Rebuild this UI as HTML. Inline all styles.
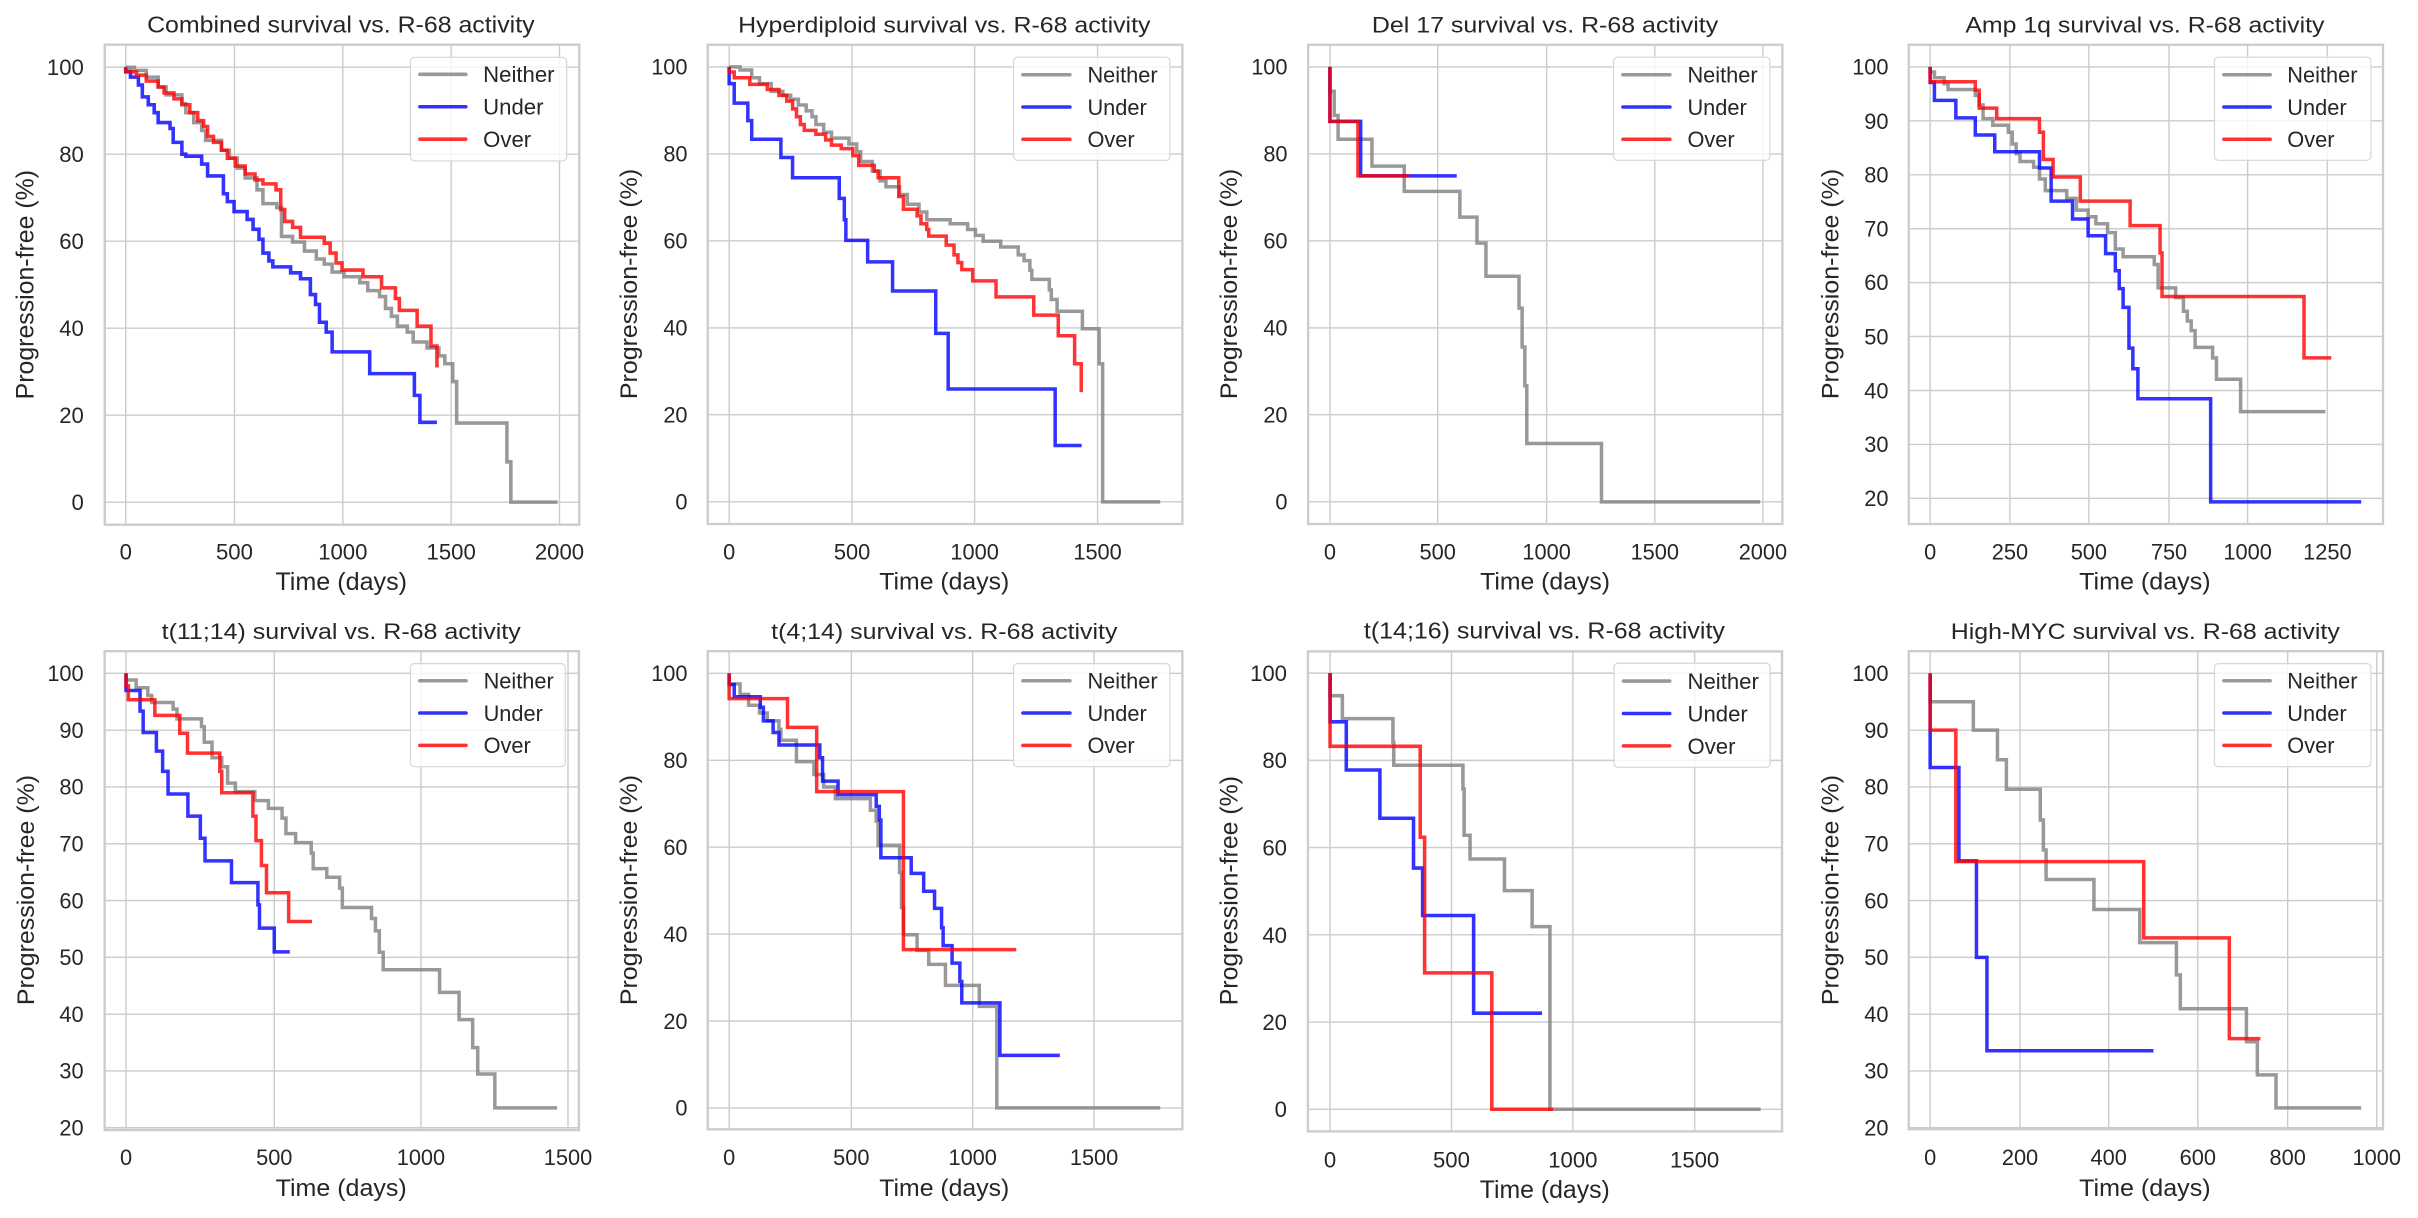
<!DOCTYPE html>
<html><head><meta charset="utf-8"><style>
html,body{margin:0;padding:0;background:#fff;}
svg{display:block;}
text{font-family:"Liberation Sans",Arial,sans-serif;fill:#262626;}
.fr{fill:none;stroke:#cccccc;stroke-width:6;}
.gr{stroke:#cccccc;stroke-width:3.6;fill:none;}
.s{fill:none;stroke-width:9;stroke-linejoin:miter;stroke-linecap:butt;opacity:0.8;}
.g{stroke:#808080;}.b{stroke:#0000ff;}.r{stroke:#ff0000;}
.lg{fill:#fff;fill-opacity:0.8;stroke:#d6d6d6;stroke-width:3;}
.ll{stroke-width:9;stroke-linecap:round;opacity:0.8;}
.t{font-size:56px;}
.yt{text-anchor:end;}
.xt{text-anchor:middle;}
.ti{font-size:58px;text-anchor:middle;}
.al{font-size:62px;text-anchor:middle;}
</style></head><body>
<svg width="2418" height="1218" viewBox="0 0 2418 1218" xmlns="http://www.w3.org/2000/svg">
<rect width="2418" height="1218" fill="#fff"/>

<!-- Panel 1 -->
<g transform="translate(0,0) scale(0.3954)">
<path class="gr" d="M318 113V1327M593 113V1327M867 113V1327M1141 113V1327M1415 113V1327M265 170H1465M265 390H1465M265 610H1465M265 830H1465M265 1050H1465M265 1270H1465"/>
<rect class="fr" x="265" y="113" width="1200" height="1214"/>
<path class="s g" d="M318 170 H340 V178 H370 V195 H400 V220 H420 V240 H460 V262 H470 V285 H490 V310 H510 V330 H520 V355 H560 V380 H580 V400 H600 V425 H620 V450 H650 V480 H665 V515 H700 V525 H712 V598 H740 V612 H770 V635 H800 V655 H820 V668 H840 V688 H870 V700 H910 V715 H930 V735 H960 V750 H975 V780 H990 V800 H1005 V825 H1030 V840 H1045 V865 H1080 V880 H1110 V900 H1125 V920 H1145 V965 H1155 V1070 H1282 V1168 H1292 V1270 H1410"/>
<path class="s b" d="M318 170 V180 H330 V195 H350 V215 H360 V245 H375 V265 H390 V285 H400 V310 H430 V325 H438 V360 H460 V390 H470 V395 H510 V415 H525 V445 H565 V490 H575 V510 H592 V535 H625 V555 H640 V580 H655 V605 H665 V640 H680 V660 H690 V675 H735 V690 H760 V705 H785 V745 H798 V770 H808 V815 H825 V840 H840 V890 H935 V945 H1048 V1000 H1062 V1068 H1105"/>
<path class="s r" d="M318 170 V182 H345 V190 H370 V205 H400 V220 H415 V235 H440 V250 H460 V265 H480 V285 H500 V305 H515 V320 H525 V345 H540 V360 H560 V380 H575 V400 H595 V420 H620 V440 H645 V455 H665 V465 H698 V480 H710 V530 H720 V560 H740 V575 H760 V600 H820 V615 H835 V640 H850 V665 H865 V683 H918 V700 H965 V728 H1000 V755 H1010 V785 H1055 V825 H1090 V875 H1105 V925 H1110"/>
<rect class="lg" x="1038" y="145" width="395" height="262" rx="10"/>
<line class="ll g" x1="1062" y1="188" x2="1178" y2="188"/><line class="ll b" x1="1062" y1="270" x2="1178" y2="270"/><line class="ll r" x1="1062" y1="352" x2="1178" y2="352"/>
<text class="t" x="1222" y="208">Neither</text><text class="t" x="1222" y="290">Under</text><text class="t" x="1222" y="372">Over</text>
<text class="t yt" x="212" y="190">100</text><text class="t yt" x="212" y="410">80</text><text class="t yt" x="212" y="630">60</text><text class="t yt" x="212" y="850">40</text><text class="t yt" x="212" y="1070">20</text><text class="t yt" x="212" y="1290">0</text>
<text class="t xt" x="318" y="1415">0</text><text class="t xt" x="593" y="1415">500</text><text class="t xt" x="867" y="1415">1000</text><text class="t xt" x="1141" y="1415">1500</text><text class="t xt" x="1415" y="1415">2000</text>
<text class="ti" x="862" y="82" textLength="980" lengthAdjust="spacingAndGlyphs">Combined survival vs. R-68 activity</text>
<text class="al" x="863" y="1492" textLength="333" lengthAdjust="spacingAndGlyphs">Time (days)</text>
<text class="al" transform="translate(85,720) rotate(-90)" x="0" y="0" textLength="580" lengthAdjust="spacingAndGlyphs">Progression-free (%)</text>
</g>

<!-- Panel 2 -->
<g transform="translate(600,0) scale(0.38903)">
<path class="gr" d="M332 115V1347M648 115V1347M963 115V1347M1279 115V1347M277 172H1497M277 395.6H1497M277 619H1497M277 843H1497M277 1066H1497M277 1290H1497"/>
<rect class="fr" x="277" y="115" width="1220" height="1232"/>
<path class="s g" d="M332 172 H360 V180 H390 V200 H410 V215 H440 V235 H470 V245 H490 V255 H510 V270 H530 V285 H545 V300 H555 V320 H575 V340 H595 V355 H640 V370 H660 V390 H670 V415 H700 V440 H720 V465 H735 V480 H770 V500 H790 V525 H820 V545 H840 V565 H900 V575 H945 V590 H965 V605 H985 V620 H1030 V635 H1075 V655 H1090 V670 H1105 V695 H1110 V718 H1155 V745 H1160 V770 H1175 V800 H1240 V845 H1283 V935 H1292 V1290 H1440"/>
<path class="s b" d="M332 172 V215 H345 V265 H380 V310 H390 V358 H465 V405 H495 V457 H615 V510 H628 V565 H632 V618 H688 V673 H752 V748 H863 V857 H895 V1000 H1170 V1145 H1238"/>
<path class="s r" d="M332 172 V185 H345 V200 H385 V217 H430 V230 H460 V245 H480 V260 H495 V280 H505 V300 H515 V320 H525 V335 H555 V345 H580 V360 H595 V373 H620 V382 H650 V400 H665 V425 H705 V440 H715 V457 H768 V505 H780 V538 H815 V555 H825 V575 H840 V590 H845 V607 H890 V630 H910 V655 H920 V675 H930 V693 H958 V722 H1018 V763 H1115 V810 H1178 V863 H1220 V935 H1237 V1008"/>
<rect class="lg" x="1063" y="147" width="402" height="265" rx="10"/>
<line class="ll g" x1="1087" y1="192" x2="1208" y2="192"/><line class="ll b" x1="1087" y1="275" x2="1208" y2="275"/><line class="ll r" x1="1087" y1="358" x2="1208" y2="358"/>
<text class="t" x="1253" y="212">Neither</text><text class="t" x="1253" y="295">Under</text><text class="t" x="1253" y="378">Over</text>
<text class="t yt" x="225" y="192">100</text><text class="t yt" x="225" y="415">80</text><text class="t yt" x="225" y="639">60</text><text class="t yt" x="225" y="863">40</text><text class="t yt" x="225" y="1086">20</text><text class="t yt" x="225" y="1310">0</text>
<text class="t xt" x="332" y="1438">0</text><text class="t xt" x="648" y="1438">500</text><text class="t xt" x="963" y="1438">1000</text><text class="t xt" x="1279" y="1438">1500</text>
<text class="ti" x="885" y="83" textLength="1060" lengthAdjust="spacingAndGlyphs">Hyperdiploid survival vs. R-68 activity</text>
<text class="al" x="885" y="1515" textLength="334" lengthAdjust="spacingAndGlyphs">Time (days)</text>
<text class="al" transform="translate(95,730) rotate(-90)" textLength="592" lengthAdjust="spacingAndGlyphs">Progression-free (%)</text>
</g>

<!-- Panel 3 -->
<g transform="translate(1200,0) scale(0.38903)">
<path class="gr" d="M334 115V1347M611 115V1347M891 115V1347M1169 115V1347M1447 115V1347M278 172H1497M278 395.6H1497M278 619H1497M278 843H1497M278 1066H1497M278 1290H1497"/>
<rect class="fr" x="278" y="115" width="1219" height="1232"/>
<path class="s g" d="M334 172 V235 H345 V297 H355 V358 H442 V427 H525 V492 H668 V558 H712 V625 H735 V710 H820 V792 H828 V892 H835 V992 H840 V1140 H1032 V1290 H1440"/>
<path class="s b" d="M334 172 V312 H413 V452 H660"/>
<path class="s r" d="M334 172 V312 H406 V452 H540"/>
<rect class="lg" x="1063" y="147" width="402" height="265" rx="10"/>
<line class="ll g" x1="1087" y1="192" x2="1208" y2="192"/><line class="ll b" x1="1087" y1="275" x2="1208" y2="275"/><line class="ll r" x1="1087" y1="358" x2="1208" y2="358"/>
<text class="t" x="1253" y="212">Neither</text><text class="t" x="1253" y="295">Under</text><text class="t" x="1253" y="378">Over</text>
<text class="t yt" x="225" y="192">100</text><text class="t yt" x="225" y="415">80</text><text class="t yt" x="225" y="639">60</text><text class="t yt" x="225" y="863">40</text><text class="t yt" x="225" y="1086">20</text><text class="t yt" x="225" y="1310">0</text>
<text class="t xt" x="334" y="1438">0</text><text class="t xt" x="611" y="1438">500</text><text class="t xt" x="891" y="1438">1000</text><text class="t xt" x="1169" y="1438">1500</text><text class="t xt" x="1447" y="1438">2000</text>
<text class="ti" x="887" y="83" textLength="890" lengthAdjust="spacingAndGlyphs">Del 17 survival vs. R-68 activity</text>
<text class="al" x="887" y="1515" textLength="334" lengthAdjust="spacingAndGlyphs">Time (days)</text>
<text class="al" transform="translate(95,730) rotate(-90)" textLength="592" lengthAdjust="spacingAndGlyphs">Progression-free (%)</text>
</g>

<!-- Panel 4 -->
<g transform="translate(1808,0) scale(0.38903)">
<path class="gr" d="M314 115V1347M519 115V1347M722 115V1347M928 115V1347M1130 115V1347M1335 115V1347M259 172H1478M259 310.6H1478M259 449.3H1478M259 588H1478M259 726.5H1478M259 865H1478M259 1004H1478M259 1142.5H1478M259 1281H1478"/>
<rect class="fr" x="259" y="115" width="1219" height="1232"/>
<path class="s g" d="M314 172 V185 H325 V200 H350 V215 H360 V230 H430 V245 H440 V270 H450 V305 H475 V322 H515 V340 H525 V370 H535 V395 H545 V415 H580 V430 H595 V460 H610 V490 H665 V510 H690 V540 H720 V557 H740 V575 H770 V598 H790 V640 H810 V660 H890 V680 H900 V740 H945 V765 H965 V800 H975 V825 H985 V850 H995 V893 H1040 V920 H1050 V975 H1112 V1058 H1330"/>
<path class="s b" d="M314 172 V212 H325 V258 H380 V303 H430 V347 H480 V390 H595 V432 H625 V517 H680 V563 H720 V606 H765 V652 H790 V696 H800 V742 H810 V790 H825 V895 H835 V948 H848 V1025 H1035 V1290 H1422"/>
<path class="s r" d="M314 172 V210 H430 V232 H440 V278 H485 V305 H595 V340 H605 V410 H630 V455 H700 V517 H828 V580 H905 V650 H910 V762 H1275 V920 H1345"/>
<rect class="lg" x="1045" y="147" width="402" height="265" rx="10"/>
<line class="ll g" x1="1069" y1="192" x2="1188" y2="192"/><line class="ll b" x1="1069" y1="275" x2="1188" y2="275"/><line class="ll r" x1="1069" y1="358" x2="1188" y2="358"/>
<text class="t" x="1232" y="212">Neither</text><text class="t" x="1232" y="295">Under</text><text class="t" x="1232" y="378">Over</text>
<text class="t yt" x="207" y="192">100</text><text class="t yt" x="207" y="331">90</text><text class="t yt" x="207" y="469">80</text><text class="t yt" x="207" y="608">70</text><text class="t yt" x="207" y="746">60</text><text class="t yt" x="207" y="885">50</text><text class="t yt" x="207" y="1024">40</text><text class="t yt" x="207" y="1162">30</text><text class="t yt" x="207" y="1301">20</text>
<text class="t xt" x="314" y="1438">0</text><text class="t xt" x="519" y="1438">250</text><text class="t xt" x="722" y="1438">500</text><text class="t xt" x="928" y="1438">750</text><text class="t xt" x="1130" y="1438">1000</text><text class="t xt" x="1335" y="1438">1250</text>
<text class="ti" x="866" y="83" textLength="923" lengthAdjust="spacingAndGlyphs">Amp 1q survival vs. R-68 activity</text>
<text class="al" x="866" y="1515" textLength="338" lengthAdjust="spacingAndGlyphs">Time (days)</text>
<text class="al" transform="translate(78,730) rotate(-90)" textLength="592" lengthAdjust="spacingAndGlyphs">Progression-free (%)</text>
</g>

<!-- Panel 5 -->
<g transform="translate(0,608) scale(0.38903)">
<path class="gr" d="M324 111V1342M705 111V1342M1082 111V1342M1460 111V1342M269 168H1488M269 314H1488M269 460H1488M269 606H1488M269 752H1488M269 898H1488M269 1044H1488M269 1190H1488M269 1336H1488"/>
<rect class="fr" x="269" y="111" width="1219" height="1231"/>
<path class="s g" d="M324 168 V185 H350 V205 H380 V225 H390 V243 H445 V260 H455 V285 H518 V305 H525 V345 H545 V385 H570 V408 H585 V450 H605 V472 H655 V495 H690 V515 H725 V540 H735 V580 H760 V603 H800 V630 H805 V670 H840 V692 H873 V720 H880 V770 H955 V798 H965 V830 H975 V885 H985 V930 H1130 V988 H1180 V1058 H1215 V1130 H1228 V1198 H1272 V1285 H1432"/>
<path class="s b" d="M324 168 V212 H360 V265 H368 V320 H402 V368 H418 V420 H432 V478 H483 V535 H515 V592 H527 V650 H595 V706 H663 V763 H667 V823 H705 V884 H745"/>
<path class="s r" d="M324 168 V200 H330 V236 H398 V276 H462 V322 H482 V373 H565 V420 H570 V475 H650 V535 H658 V598 H672 V662 H685 V732 H742 V806 H802"/>
<rect class="lg" x="1055" y="143" width="398" height="265" rx="10"/>
<line class="ll g" x1="1079" y1="187" x2="1198" y2="187"/><line class="ll b" x1="1079" y1="270" x2="1198" y2="270"/><line class="ll r" x1="1079" y1="353" x2="1198" y2="353"/>
<text class="t" x="1243" y="207">Neither</text><text class="t" x="1243" y="290">Under</text><text class="t" x="1243" y="373">Over</text>
<text class="t yt" x="215" y="188">100</text><text class="t yt" x="215" y="334">90</text><text class="t yt" x="215" y="480">80</text><text class="t yt" x="215" y="626">70</text><text class="t yt" x="215" y="772">60</text><text class="t yt" x="215" y="918">50</text><text class="t yt" x="215" y="1064">40</text><text class="t yt" x="215" y="1210">30</text><text class="t yt" x="215" y="1356">20</text>
<text class="t xt" x="324" y="1432">0</text><text class="t xt" x="705" y="1432">500</text><text class="t xt" x="1082" y="1432">1000</text><text class="t xt" x="1460" y="1432">1500</text>
<text class="ti" x="877" y="80" textLength="923" lengthAdjust="spacingAndGlyphs">t(11;14) survival vs. R-68 activity</text>
<text class="al" x="877" y="1512" textLength="337" lengthAdjust="spacingAndGlyphs">Time (days)</text>
<text class="al" transform="translate(88,725) rotate(-90)" textLength="592" lengthAdjust="spacingAndGlyphs">Progression-free (%)</text>
</g>

<!-- Panel 6 -->
<g transform="translate(600,608) scale(0.38903)">
<path class="gr" d="M332 111V1340M646 111V1340M958 111V1340M1270 111V1340M277 168H1497M277 391.4H1497M277 614.8H1497M277 838.2H1497M277 1061.6H1497M277 1285H1497"/>
<rect class="fr" x="277" y="111" width="1220" height="1229"/>
<path class="s g" d="M332 168 V195 H360 V222 H382 V250 H410 V270 H430 V290 H460 V312 H465 V340 H505 V395 H550 V428 H575 V460 H605 V490 H695 V520 H710 V548 H715 V610 H770 V680 H775 V770 H780 V840 H815 V880 H845 V916 H888 V970 H975 V1024 H1020 V1285 H1440"/>
<path class="s b" d="M332 168 V197 H345 V228 H412 V255 H420 V290 H445 V320 H460 V352 H565 V385 H572 V445 H612 V480 H710 V510 H718 V545 H722 V642 H800 V682 H832 V728 H860 V772 H878 V822 H882 V868 H905 V913 H925 V960 H930 V1015 H1028 V1150 H1182"/>
<path class="s r" d="M332 168 V233 H482 V307 H557 V472 H780 V878 H1070"/>
<rect class="lg" x="1063" y="143" width="402" height="265" rx="10"/>
<line class="ll g" x1="1087" y1="187" x2="1208" y2="187"/><line class="ll b" x1="1087" y1="270" x2="1208" y2="270"/><line class="ll r" x1="1087" y1="353" x2="1208" y2="353"/>
<text class="t" x="1253" y="207">Neither</text><text class="t" x="1253" y="290">Under</text><text class="t" x="1253" y="373">Over</text>
<text class="t yt" x="225" y="188">100</text><text class="t yt" x="225" y="411">80</text><text class="t yt" x="225" y="635">60</text><text class="t yt" x="225" y="858">40</text><text class="t yt" x="225" y="1082">20</text><text class="t yt" x="225" y="1305">0</text>
<text class="t xt" x="332" y="1432">0</text><text class="t xt" x="646" y="1432">500</text><text class="t xt" x="958" y="1432">1000</text><text class="t xt" x="1270" y="1432">1500</text>
<text class="ti" x="885" y="80" textLength="890" lengthAdjust="spacingAndGlyphs">t(4;14) survival vs. R-68 activity</text>
<text class="al" x="885" y="1512" textLength="334" lengthAdjust="spacingAndGlyphs">Time (days)</text>
<text class="al" transform="translate(95,725) rotate(-90)" textLength="592" lengthAdjust="spacingAndGlyphs">Progression-free (%)</text>
</g>

<!-- Panel 7 -->
<g transform="translate(1200,600) scale(0.3954)">
<path class="gr" d="M329 130V1344M636 130V1344M943 130V1344M1251 130V1344M273 185H1472M273 405.6H1472M273 626.2H1472M273 846.8H1472M273 1067.4H1472M273 1288H1472"/>
<rect class="fr" x="273" y="130" width="1199" height="1214"/>
<path class="s g" d="M329 185 V242 H360 V300 H488 V360 H490 V418 H665 V478 H668 V595 H683 V655 H770 V735 H840 V826 H885 V1288 H1418"/>
<path class="s b" d="M329 185 V308 H370 V430 H455 V552 H540 V678 H563 V798 H692 V1045 H865"/>
<path class="s r" d="M329 185 V370 H557 V600 H568 V943 H738 V1288 H893"/>
<rect class="lg" x="1047" y="160" width="395" height="263" rx="10"/>
<line class="ll g" x1="1071" y1="205" x2="1188" y2="205"/><line class="ll b" x1="1071" y1="287" x2="1188" y2="287"/><line class="ll r" x1="1071" y1="369" x2="1188" y2="369"/>
<text class="t" x="1233" y="225">Neither</text><text class="t" x="1233" y="307">Under</text><text class="t" x="1233" y="389">Over</text>
<text class="t yt" x="220" y="205">100</text><text class="t yt" x="220" y="425">80</text><text class="t yt" x="220" y="646">60</text><text class="t yt" x="220" y="867">40</text><text class="t yt" x="220" y="1087">20</text><text class="t yt" x="220" y="1308">0</text>
<text class="t xt" x="329" y="1435">0</text><text class="t xt" x="636" y="1435">500</text><text class="t xt" x="943" y="1435">1000</text><text class="t xt" x="1251" y="1435">1500</text>
<text class="ti" x="871" y="97" textLength="913" lengthAdjust="spacingAndGlyphs">t(14;16) survival vs. R-68 activity</text>
<text class="al" x="872" y="1512" textLength="329" lengthAdjust="spacingAndGlyphs">Time (days)</text>
<text class="al" transform="translate(95,735) rotate(-90)" textLength="580" lengthAdjust="spacingAndGlyphs">Progression-free (%)</text>
</g>

<!-- Panel 8 -->
<g transform="translate(1808,608) scale(0.38903)">
<path class="gr" d="M314 111V1340M545 111V1340M773 111V1340M1002 111V1340M1233 111V1340M1462 111V1340M259 168H1478M259 314H1478M259 460H1478M259 606H1478M259 752H1478M259 898H1478M259 1044H1478M259 1190H1478M259 1336H1478"/>
<rect class="fr" x="259" y="111" width="1219" height="1229"/>
<path class="s g" d="M314 168 V241 H425 V314 H487 V390 H510 V466 H597 V545 H605 V622 H612 V698 H735 V775 H853 V860 H947 V943 H957 V1030 H1127 V1115 H1155 V1200 H1203 V1285 H1422"/>
<path class="s b" d="M314 168 V410 H388 V650 H433 V898 H460 V1138 H888"/>
<path class="s r" d="M314 168 V314 H380 V652 H863 V848 H1083 V1107 H1163"/>
<rect class="lg" x="1045" y="143" width="402" height="265" rx="10"/>
<line class="ll g" x1="1069" y1="187" x2="1188" y2="187"/><line class="ll b" x1="1069" y1="270" x2="1188" y2="270"/><line class="ll r" x1="1069" y1="353" x2="1188" y2="353"/>
<text class="t" x="1232" y="207">Neither</text><text class="t" x="1232" y="290">Under</text><text class="t" x="1232" y="373">Over</text>
<text class="t yt" x="207" y="188">100</text><text class="t yt" x="207" y="334">90</text><text class="t yt" x="207" y="480">80</text><text class="t yt" x="207" y="626">70</text><text class="t yt" x="207" y="772">60</text><text class="t yt" x="207" y="918">50</text><text class="t yt" x="207" y="1064">40</text><text class="t yt" x="207" y="1210">30</text><text class="t yt" x="207" y="1356">20</text>
<text class="t xt" x="314" y="1432">0</text><text class="t xt" x="545" y="1432">200</text><text class="t xt" x="773" y="1432">400</text><text class="t xt" x="1002" y="1432">600</text><text class="t xt" x="1233" y="1432">800</text><text class="t xt" x="1462" y="1432">1000</text>
<text class="ti" x="867" y="80" textLength="1000" lengthAdjust="spacingAndGlyphs">High-MYC survival vs. R-68 activity</text>
<text class="al" x="866" y="1512" textLength="338" lengthAdjust="spacingAndGlyphs">Time (days)</text>
<text class="al" transform="translate(78,725) rotate(-90)" textLength="592" lengthAdjust="spacingAndGlyphs">Progression-free (%)</text>
</g>
</svg>
</body></html>
